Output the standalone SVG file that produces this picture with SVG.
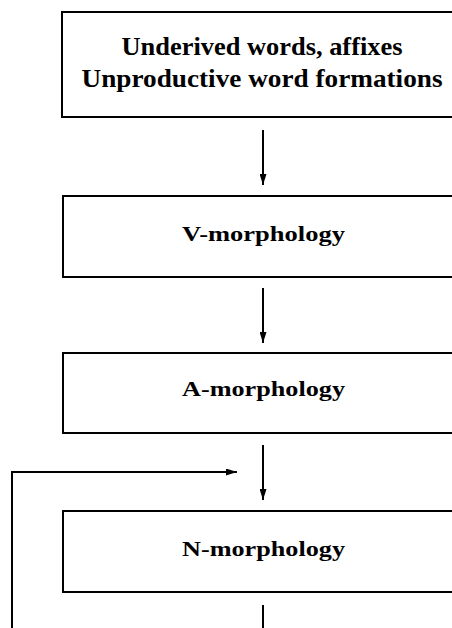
<svg xmlns="http://www.w3.org/2000/svg" width="452" height="628" viewBox="0 0 452 628">
<defs>
<marker id="ah" viewBox="0 0 11 7" refX="11" refY="3.5" markerWidth="11" markerHeight="7" markerUnits="userSpaceOnUse" orient="auto">
<path d="M0,0 L11,3.5 L0,7 Z" fill="#000"/>
</marker>
</defs>
<style>
.box{fill:#fff;stroke:#000;stroke-width:2}
.t1{font-family:"Liberation Serif","DejaVu Serif",serif;font-weight:bold;font-size:26px;fill:#000}
.t2{font-family:"Liberation Serif","DejaVu Serif",serif;font-weight:bold;font-size:22px;fill:#000}
.c{fill:none;stroke:#000;stroke-width:2}
</style>
<rect width="452" height="628" fill="#fff"/>
<g id="connectors">
<line class="c" x1="263" y1="130" x2="263" y2="185" marker-end="url(#ah)"/>
<line class="c" x1="263" y1="288" x2="263" y2="343" marker-end="url(#ah)"/>
<line class="c" x1="263" y1="445" x2="263" y2="500" marker-end="url(#ah)"/>
<line class="c" x1="263" y1="605" x2="263" y2="628"/>
<polyline class="c" points="12,628 12,472 237,472" marker-end="url(#ah)"/>
</g>
<g id="node-underived">
<rect class="box" x="62" y="12" width="400" height="105"/>
<text class="t1" x="262" y="55" text-anchor="middle" textLength="281" lengthAdjust="spacingAndGlyphs">Underived words, affixes</text>
<text class="t1" x="262" y="87" text-anchor="middle" textLength="361" lengthAdjust="spacingAndGlyphs">Unproductive word formations</text>
</g>
<g id="node-v">
<rect class="box" x="63" y="196" width="400" height="81"/>
<text class="t2" x="263.5" y="241" text-anchor="middle" textLength="163" lengthAdjust="spacingAndGlyphs">V-morphology</text>
</g>
<g id="node-a">
<rect class="box" x="63" y="353" width="400" height="80"/>
<text class="t2" x="263.5" y="396" text-anchor="middle" textLength="163" lengthAdjust="spacingAndGlyphs">A-morphology</text>
</g>
<g id="node-n">
<rect class="box" x="63" y="511" width="400" height="81"/>
<text class="t2" x="263.5" y="556" text-anchor="middle" textLength="163" lengthAdjust="spacingAndGlyphs">N-morphology</text>
</g>
</svg>
